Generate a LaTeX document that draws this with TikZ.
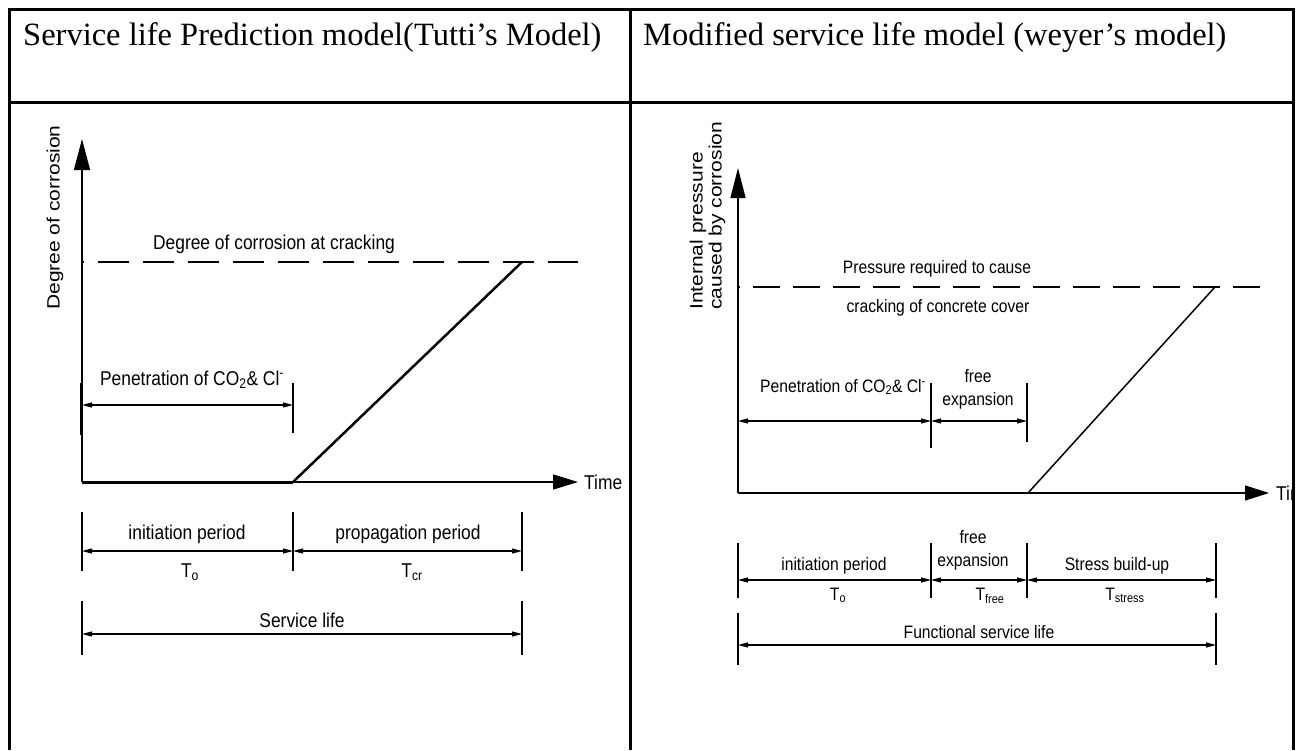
\documentclass[tikz,border=0pt]{standalone}
\usepackage{fontspec}
\setmainfont{Liberation Serif}
\newfontfamily\diagfont{Liberation Sans}
\usetikzlibrary{arrows.meta}
\newcommand{\hsq}[1]{\scalebox{0.87}[1]{#1}}
\newcommand{\vsq}[1]{\scalebox{1}[0.85]{#1}}
\begin{document}
\begin{tikzpicture}[x=1pt,y=-1pt,
  tbl/.style={line width=3pt},
  axis/.style={line width=1.4pt},
  yarrow/.style={-{Triangle[length=31pt,width=16pt]}},
  xarrow/.style={-{Triangle[length=25pt,width=15pt]}},
  dim/.style={line width=1.1pt,{Triangle[length=10pt,width=5pt]}-{Triangle[length=10pt,width=5pt]}},
  tickline/.style={line width=1.1pt},
  crack/.style={line width=1.4pt},
  lbl/.style={font=\diagfont\fontsize{20}{22}\selectfont, inner sep=0pt},
  rlbl/.style={font=\diagfont\fontsize{18}{20}\selectfont, inner sep=0pt},
  ylbl/.style={font=\diagfont\fontsize{21}{23}\selectfont, inner sep=0pt, rotate=90, anchor=west},
  hdr/.style={font=\fontsize{32.5}{38}\selectfont, inner sep=0pt, anchor=base west}]
\useasboundingbox (0,0) rectangle (1299,750);

% ---------- table ----------
\draw[tbl] (9,750) -- (9,9) -- (1293,9) -- (1293,750);
\draw[tbl] (9,102) -- (1293,102);
\draw[tbl] (630,9) -- (630,750);
\node[hdr] (h1) at (23,45) {Service life Prediction model(Tutti’s Model)};
\node[hdr] (h2) at (643,45) {Modified service life model (weyer’s model)};

% ---------- left chart ----------
\coordinate (LO) at (82,482);
\coordinate (LYtop) at (82,139);
\coordinate (LXend) at (578,482);
\coordinate (LK) at (293,482);
\coordinate (LP) at (522,262);
\coordinate (LD0) at (82,262);
\coordinate (LD1) at (578,262);

\draw[crack, dash pattern=on 31pt off 14pt, dash phase=29pt] (LD0) -- (LD1);
\draw[axis, yarrow] (LO) -- (LYtop);
\draw[axis, xarrow] (LO) -- (LXend);
\draw[line width=3pt] (LO) -- (LK);
\draw[line width=2.5pt] (LK) -- (LP);
\node[lbl, anchor=west] (ltime) at (584,482) {\hsq{Time}};
\node[ylbl] (lylab) at (55,310) {\vsq{Degree of corrosion}};
\node[lbl, anchor=base] (lcrack) at (274,249) {\hsq{Degree of corrosion at cracking}};

% penetration
\coordinate (LpA) at (82,405);
\coordinate (LpB) at (293,405);
\draw[tickline] (81,383) -- (81,435);
\draw[tickline] (293,383) -- (293,433);
\draw[dim] (LpA) -- (LpB);
\node[lbl, anchor=base] (lpen) at (192,385) {\hsq{Penetration of CO\textsubscript{2}\& Cl\textsuperscript{-}}};

% periods
\coordinate (LiA) at (82,551);
\coordinate (LiB) at (293,551);
\coordinate (LiC) at (522,551);
\foreach \x in {82,293,522} \draw[tickline] (\x,512) -- (\x,571);
\draw[dim] (LiA) -- (LiB);
\draw[dim] (LiB) -- (LiC);
\node[lbl, anchor=base] (linit) at (187,539) {\hsq{initiation period}};
\node[lbl, anchor=base] (lprop) at (408,539) {\hsq{propagation period}};
\node[lbl, anchor=base] (lto) at (190,577) {\hsq{T\textsubscript{o}}};
\node[lbl, anchor=base] (ltcr) at (412,577) {\hsq{T\textsubscript{cr}}};

% service life
\coordinate (LsA) at (82,634);
\coordinate (LsB) at (522,634);
\foreach \x in {82,522} \draw[tickline] (\x,601) -- (\x,655);
\draw[dim] (LsA) -- (LsB);
\node[lbl, anchor=base] (lsl) at (302,627) {\hsq{Service life}};

% ---------- right chart ----------
\coordinate (RO) at (738,493);
\coordinate (RYtop) at (738,168);
\coordinate (RXend) at (1269,493);
\coordinate (RK) at (1028,493);
\coordinate (RP) at (1215,287);
\coordinate (RD0) at (738,287);
\coordinate (RD1) at (1267,287);

\draw[crack, dash pattern=on 27pt off 13pt, dash phase=25pt] (RD0) -- (RD1);
\draw[axis, -{Triangle[length=30pt,width=15pt]}] (RO) -- (RYtop);
\draw[axis, -{Triangle[length=24pt,width=15pt]}] (RO) -- (RXend);
\draw[line width=2.6pt] (RO) -- (RK);
\draw[line width=1.5pt] (RK) -- (RP);
\begin{scope}
  \clip (632,104) rectangle (1292,750);
  \node[lbl, anchor=west] (rtime) at (1276,493) {\hsq{Time}};
\end{scope}
\node[ylbl] (rylab1) at (698,310) {\vsq{Internal pressure}};
\node[ylbl] (rylab2) at (717,310) {\vsq{caused by corrosion}};
\node[rlbl, anchor=base] (rpress1) at (937,273) {\hsq{Pressure required to cause}};
\node[rlbl, anchor=base] (rpress2) at (938,312) {\hsq{cracking of concrete cover}};

% penetration + free expansion
\coordinate (RpA) at (738,421);
\coordinate (RpB) at (931,421);
\coordinate (RpC) at (1027,421);
\draw[tickline] (931,383) -- (931,448);
\draw[tickline] (1027,383) -- (1027,442);
\draw[dim] (RpA) -- (RpB);
\draw[dim] (RpB) -- (RpC);
\node[rlbl, anchor=base] (rpen) at (843,392) {\hsq{Penetration of CO\textsubscript{2}\& Cl\textsuperscript{-}}};
\node[rlbl, anchor=base] (rfree1) at (978,382) {\hsq{free}};
\node[rlbl, anchor=base] (rexp1) at (978,405) {\hsq{expansion}};

% periods
\coordinate (RiA) at (738,580);
\coordinate (RiB) at (931,580);
\coordinate (RiC) at (1027,580);
\coordinate (RiD) at (1216,580);
\foreach \x in {738,931,1027,1216} \draw[tickline] (\x,543) -- (\x,598);
\draw[dim] (RiA) -- (RiB);
\draw[dim] (RiB) -- (RiC);
\draw[dim] (RiC) -- (RiD);
\node[rlbl, anchor=base] (rinit) at (834,570) {\hsq{initiation period}};
\node[rlbl, anchor=base] (rfree2) at (973,543) {\hsq{free}};
\node[rlbl, anchor=base] (rexp2) at (973,566) {\hsq{expansion}};
\node[rlbl, anchor=base] (rstress) at (1117,570) {\hsq{Stress build-up}};
\node[rlbl, anchor=base] (rto) at (838,600) {\hsq{T\textsubscript{o}}};
\node[rlbl, anchor=base] (rtfree) at (990,600) {\hsq{T\textsubscript{free}}};
\node[rlbl, anchor=base] (rtstress) at (1125,600) {\hsq{T\textsubscript{stress}}};

% functional service life
\coordinate (RsA) at (738,645);
\coordinate (RsB) at (1216,645);
\foreach \x in {738,1216} \draw[tickline] (\x,613) -- (\x,665);
\draw[dim] (RsA) -- (RsB);
\node[rlbl, anchor=base] (rfsl) at (979,638) {\hsq{Functional service life}};
\end{tikzpicture}
\end{document}
